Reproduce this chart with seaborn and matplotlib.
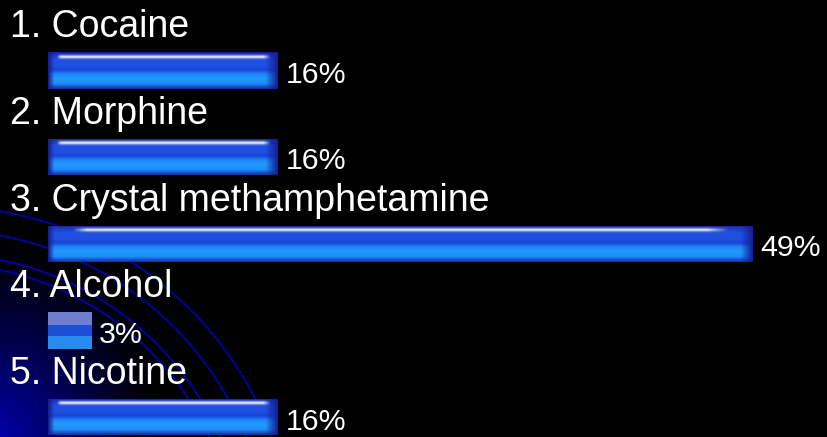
import numpy as np
import pandas as pd
import matplotlib
matplotlib.use("Agg")
import matplotlib.pyplot as plt
import seaborn as sns

# ---- data ----
labels = ["1. Cocaine", "2. Morphine", "3. Crystal methamphetamine", "4. Alcohol", "5. Nicotine"]
values = [16, 16, 49, 3, 16]
value_labels = ["16%", "16%", "49%", "3%", "16%"]

sns.set_theme(style="white")
plt.rcParams["font.family"] = ["Liberation Sans", "DejaVu Sans"]

W, H = 827, 437
fig = plt.figure(figsize=(W / 100, H / 100), dpi=100)
fig.patch.set_facecolor("black")

# ---- background (pixel coordinates) ----
bg = fig.add_axes([0, 0, 1, 1], zorder=0)
bg.set_xlim(0, W)
bg.set_ylim(H, 0)
bg.axis("off")
yy, xx = np.mgrid[0:H, 0:W]
r = np.sqrt((xx / 165.0) ** 2 + ((H - yy) / 200.0) ** 2)
g = np.clip(1 - r, 0, 1) ** 1.2
img = np.zeros((H, W, 3))
img[..., 2] = 0.66 * g
bg.imshow(img, extent=(0, W, H, 0), aspect="auto", zorder=0)
cx, cy = -60, 560
th = np.linspace(0, 2 * np.pi, 3000)
for rad in [296, 306, 330, 354]:
    bg.plot(cx + rad * np.cos(th), cy + rad * np.sin(th), color="#0000a8", lw=1.3, zorder=1)
bg.set_xlim(0, W)
bg.set_ylim(H, 0)

# ---- bars ----
ax = fig.add_axes([0, 0, 1, 1], zorder=1)
ax.set_facecolor("none")
df = pd.DataFrame({"label": labels, "value": values})
PXX = 14.375   # px per percent
PXY = 86.7     # px per category
BH = 36.5 / PXY
sns.barplot(data=df, y="label", x="value", orient="h", color="#1f50dc",
            width=BH, ax=ax, saturation=1, linewidth=0, edgecolor="none")

def interp_profile(stops, n):
    t = np.linspace(0, 1, n)
    ts = [s[0] for s in stops]
    out = np.zeros((n, 3))
    for c in range(3):
        out[:, c] = np.interp(t, ts, [s[1][c] for s in stops])
    return out

stops = [
    (0.00, (0.08, 0.12, 0.58)),
    (0.05, (0.11, 0.20, 0.74)),
    (0.20, (0.13, 0.31, 0.88)),
    (0.38, (0.12, 0.31, 0.88)),
    (0.48, (0.10, 0.27, 0.84)),
    (0.60, (0.12, 0.53, 0.97)),
    (0.72, (0.13, 0.60, 0.99)),
    (0.86, (0.12, 0.55, 0.97)),
    (1.00, (0.08, 0.20, 0.66)),
]
navy = np.array([0.08, 0.12, 0.58])

for i, (patch, v) in enumerate(zip(ax.patches, values)):
    wpx = int(round(v * PXX))
    hpx = 37
    if wpx < 60:
        arr = np.zeros((hpx, wpx, 3))
        arr[:13] = (0.43, 0.50, 0.81)
        arr[13:24] = (0.11, 0.31, 0.85)
        arr[24:] = (0.16, 0.54, 0.94)
        interp = "nearest"
    else:
        prof = interp_profile(stops, hpx)
        arr = np.repeat(prof[:, None, :], wpx, axis=1)
        x = np.arange(wpx)
        le = np.clip(1 - x / 6.0, 0, 1)
        re = np.clip(1 - (wpx - 1 - x) / 12.0, 0, 1)
        e = np.maximum(le, re)[None, :, None]
        arr = arr * (1 - e) + navy * e
        t = np.linspace(0, 1, hpx)
        va = np.exp(-0.5 * ((t - 0.12) / 0.035) ** 2)
        s0 = 0.035 * wpx
        ramp = max(0.02 * wpx, 4)
        ha = np.clip((x - s0) / ramp, 0, 1) * np.clip((wpx - s0 - x) / (ramp * 1.5), 0, 1)
        a = (va[:, None] * ha[None, :] * 0.92)[..., None]
        arr = arr * (1 - a) + np.array([0.92, 0.94, 1.0]) * a
        interp = "bilinear"
    im = ax.imshow(np.clip(arr, 0, 1), extent=(0, v, i + BH / 2, i - BH / 2),
                   aspect="auto", interpolation=interp, zorder=2)
    im.set_clip_path(patch)

# ---- texts ----
for i, (lab, v, vl) in enumerate(zip(labels, values, value_labels)):
    ax.text((10 - 48) / PXX, i - 33.1 / PXY, lab, color="white", fontsize=27.0,
            ha="left", va="baseline", zorder=3)
    ax.text(v + 7.5 / PXX, i + 12.3 / PXY, vl, color="white", fontsize=21.8,
            ha="left", va="baseline", zorder=3)

ax.set_xlim(-48 / PXX, (W - 48) / PXX)
ax.set_ylim((H - 70.4) / PXY, -70.4 / PXY)
ax.axis("off")

fig.savefig("out.png", dpi=100, facecolor="black")
